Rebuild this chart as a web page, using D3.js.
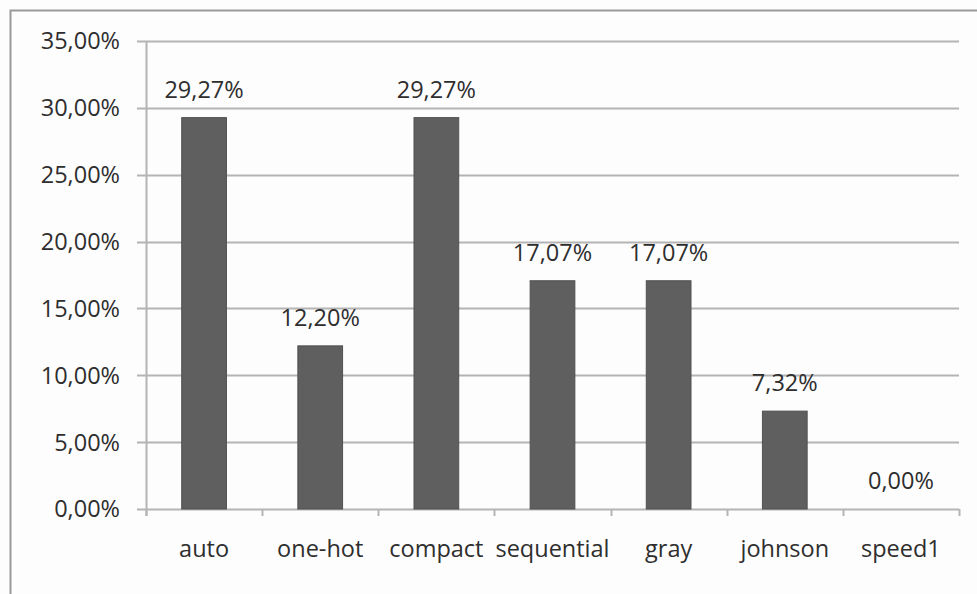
<!DOCTYPE html>
<html>
<head>
<meta charset="utf-8">
<script src="https://cdn.jsdelivr.net/npm/d3@7"></script>
<style>
  html, body { margin: 0; padding: 0; background: #fdfdfd; }
  svg { display: block; }
  text { font-family: "Open Sans", "Lato", sans-serif; fill: #2e2e2e; }
</style>
</head>
<body>
<svg id="chart" width="977" height="594"></svg>
<script>
// Share of each encoding method (percent)
const categories = ["auto", "one-hot", "compact", "sequential", "gray", "johnson", "speed1"];
const values = [29.27, 12.20, 29.27, 17.07, 17.07, 7.32, 0.00];
const yTicks = [0, 5, 10, 15, 20, 25, 30, 35];

const W = 977, H = 594;
const margin = { left: 146, right: 18, top: 41, bottom: 85 };
const svg = d3.select("#chart");
const FS = 23.5;

const fmt = v => d3.format(".2f")(v).replace(".", ",") + "%";

// outer frame
svg.append("rect").attr("x", 0).attr("y", 0).attr("width", W).attr("height", H).attr("fill", "#fdfdfd");
svg.append("path")
  .attr("d", `M10.5,${H} V10.5 H${W}`)
  .attr("fill", "none").attr("stroke", "#9a9a9a").attr("stroke-width", 2);

const x = d3.scaleBand().domain(categories)
  .range([margin.left, W - margin.right]).paddingInner(0).paddingOuter(0);
const y = d3.scaleLinear().domain([0, 35]).range([H - margin.bottom, margin.top]);

// horizontal gridlines with small left ticks
const grid = svg.append("g");
grid.selectAll("line").data(yTicks).join("line")
  .attr("x1", margin.left - 9).attr("x2", W - margin.right)
  .attr("y1", d => Math.round(y(d)) + 0.5).attr("y2", d => Math.round(y(d)) + 0.5)
  .attr("stroke", "#b4b4b4").attr("stroke-width", 2);

// y axis line
svg.append("line")
  .attr("x1", margin.left + 0.5).attr("x2", margin.left + 0.5)
  .attr("y1", y(35)).attr("y2", y(0) + 7)
  .attr("stroke", "#b4b4b4").attr("stroke-width", 2);

// y tick labels
svg.append("g").selectAll("text").data(yTicks).join("text")
  .attr("x", margin.left - 26).attr("y", d => y(d))
  .attr("dy", "0.36em").attr("text-anchor", "end")
  .attr("font-size", FS).text(d => fmt(d));

// x category ticks
const xTickPos = categories.map(c => x(c)).concat([x(categories[categories.length - 1]) + x.bandwidth()]);
svg.append("g").selectAll("line").data(xTickPos).join("line")
  .attr("x1", d => Math.round(d) + 0.5).attr("x2", d => Math.round(d) + 0.5)
  .attr("y1", y(0)).attr("y2", y(0) + 7)
  .attr("stroke", "#b4b4b4").attr("stroke-width", 2);

// bars
const barW = x.bandwidth() * 0.385;
svg.append("g").selectAll("rect").data(values).join("rect")
  .attr("x", (d, i) => x(categories[i]) + (x.bandwidth() - barW) / 2)
  .attr("y", d => y(d))
  .attr("width", barW)
  .attr("height", d => y(0) - y(d))
  .attr("fill", "#5f5f5f")
  .attr("stroke", "#505050").attr("stroke-width", 1);

// value labels
svg.append("g").selectAll("text").data(values).join("text")
  .attr("x", (d, i) => x(categories[i]) + x.bandwidth() / 2)
  .attr("y", d => y(d) - 20)
  .attr("text-anchor", "middle").attr("font-size", FS)
  .text(d => fmt(d));

// category labels
svg.append("g").selectAll("text").data(categories).join("text")
  .attr("x", c => x(c) + x.bandwidth() / 2)
  .attr("y", y(0) + 48)
  .attr("text-anchor", "middle").attr("font-size", FS)
  .text(c => c);
</script>
</body>
</html>
